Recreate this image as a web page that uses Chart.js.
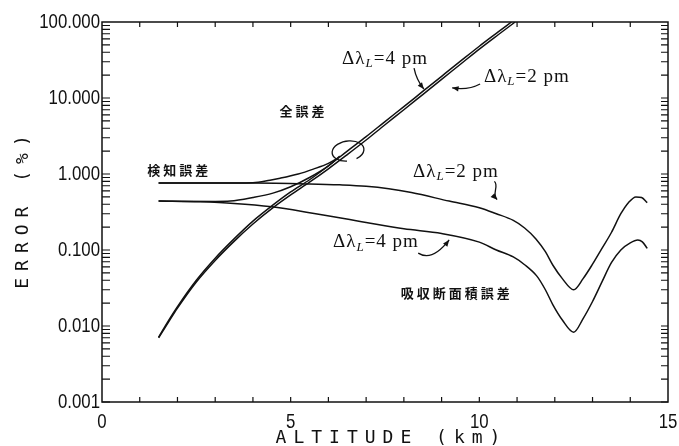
<!DOCTYPE html>
<html><head><meta charset="utf-8">
<script src="https://cdn.jsdelivr.net/npm/chart.js@4"></script>
<style>html,body{margin:0;padding:0;background:#fff}#wrap{width:679px;height:446px}</style>
</head><body><div id="wrap"><canvas id="c" width="679" height="446"></canvas></div>
<script>
// ---- tick values / labels ----
const xTickValues = [0, 5, 10, 15];
const xTickLabels = ["0", "5", "10", "15"];
const yTickValues = [0.001, 0.01, 0.1, 1, 10, 100];
const yTickLabels = ["0.001", "0.010", "0.100", "1.000", "10.000", "100.000"];

// ---- series (altitude km, error %) ----
const det4X = [1.5,1.75,2.0,2.5,3.0,3.5,4.0,4.5,5.0,5.5,6.0,6.5,7.0,7.5,8.0,8.5,9.0,9.5,10.0,10.5,10.85];
const det4Y = [0.0071,0.0115,0.018,0.040,0.078,0.14,0.24,0.38,0.58,0.84,1.28,2.0,3.1,4.9,7.7,12.2,19.3,30.5,48,74,100];
const det2X = [1.5,1.75,2.0,2.5,3.0,3.5,4.0,4.5,5.0,5.5,6.0,6.5,7.0,7.5,8.0,8.5,9.0,9.5,10.0,10.5,10.95];
const det2Y = [0.0070,0.011,0.0172,0.038,0.073,0.13,0.22,0.35,0.53,0.78,1.17,1.8,2.8,4.45,7.0,11.1,17.6,27.8,44,68,100];

const abs2X = [1.5,2.5,4.0,5.5,6.3,7.0,7.6,8.2,9.2,10.0,10.45,10.9,11.2,11.5,11.75,11.95,12.2,12.5,12.75,13.0,13.25,13.5,13.75,13.95,14.15,14.3,14.45];
const abs2Y = [0.76,0.76,0.76,0.74,0.72,0.69,0.64,0.57,0.44,0.36,0.30,0.245,0.195,0.14,0.095,0.063,0.042,0.030,0.042,0.065,0.105,0.17,0.30,0.42,0.50,0.49,0.42];
const abs4X = [1.5,2.6,3.5,4.5,5.5,7.0,8.0,9.0,10.0,10.45,10.9,11.2,11.53,11.75,11.95,12.2,12.5,12.75,13.0,13.25,13.5,13.75,14.0,14.2,14.32,14.45];
const abs4Y = [0.44,0.43,0.41,0.37,0.31,0.23,0.19,0.165,0.127,0.10,0.081,0.064,0.045,0.030,0.019,0.012,0.0083,0.0125,0.021,0.038,0.068,0.100,0.124,0.135,0.128,0.105];

const tot2X = [1.5,3.0,4.0,4.45,4.72,5.2,5.6,6.0,6.25];
const tot2Y = [0.76,0.76,0.77,0.83,0.88,1.0,1.16,1.38,1.62];
const tot4X = [1.5,3.0,3.4,4.0,4.53,5.0,5.5,6.0,6.3];
const tot4Y = [0.44,0.435,0.44,0.49,0.56,0.68,0.9,1.28,1.72];

const pts = (xs, ys) => xs.map((x, i) => ({x, y: ys[i]}));
const lineDs = (label, xs, ys) => ({
  label, data: pts(xs, ys), borderColor: '#111', borderWidth: 1.5,
  pointRadius: 0, fill: false, cubicInterpolationMode: 'monotone'
});

// ---- annotations (data coordinates) ----
const dlLabels = [
  {rest: '=4 pm', x: 7.50, y: 32.6},
  {rest: '=2 pm', x: 11.26, y: 18.9},
  {rest: '=2 pm', x: 9.38, y: 1.06},
  {rest: '=4 pm', x: 7.26, y: 0.127}
];
const jpLabels = [
  {t: '全誤差', x: 5.30, y: 6.74},
  {t: '検知誤差', x: 2.01, y: 1.13},
  {t: '吸収断面積誤差', x: 9.36, y: 0.027}
];
const arrows = [
  {p: [[8.27, 24.8], [8.33, 17.5], [8.53, 13.1]]},
  {p: [[10.02, 15.3], [9.7, 12.6], [9.28, 13.6]]},
  {p: [[10.40, 0.80], [10.53, 0.695], [10.32, 0.546], [10.47, 0.46]]},
  {p: [[8.38, 0.091], [8.75, 0.0695], [9.20, 0.1355]]}
];
const loop = {x: 6.52, y: 2.01};

const decor = {
  id: 'decor',
  afterDraw(chart) {
    const ctx = chart.ctx, a = chart.chartArea;
    const xs = chart.scales.x, ys = chart.scales.y;
    ctx.save();
    ctx.strokeStyle = '#111'; ctx.fillStyle = '#111';
    // frame
    ctx.lineWidth = 1.5;
    ctx.strokeRect(a.left, a.top, a.right - a.left, a.bottom - a.top);
    // ticks
    ctx.lineWidth = 1.2;
    ctx.beginPath();
    for (let k = 1; k < 15; k++) {
      const px = xs.getPixelForValue(k);
      ctx.moveTo(px, a.bottom); ctx.lineTo(px, a.bottom - 5);
      ctx.moveTo(px, a.top); ctx.lineTo(px, a.top + 5);
    }
    for (let d = -3; d <= 1; d++) {
      for (let m = 1; m <= 9; m++) {
        const v = m * Math.pow(10, d);
        const py = ys.getPixelForValue(v);
        ctx.moveTo(a.left, py); ctx.lineTo(a.left + 8, py);
        ctx.moveTo(a.right, py); ctx.lineTo(a.right - 7, py);
      }
    }
    ctx.stroke();
    // tick labels (condensed)
    ctx.font = '21px "Liberation Sans"';
    ctx.textAlign = 'right'; ctx.textBaseline = 'middle';
    yTickValues.forEach((v, i) => {
      ctx.save();
      ctx.translate(a.left - 2, ys.getPixelForValue(v));
      ctx.scale(0.8, 1);
      ctx.fillText(yTickLabels[i], 0, 0);
      ctx.restore();
    });
    ctx.textAlign = 'center'; ctx.textBaseline = 'top';
    xTickValues.forEach((v, i) => {
      ctx.save();
      ctx.translate(xs.getPixelForValue(v), a.bottom + 10);
      ctx.scale(0.8, 1);
      ctx.fillText(xTickLabels[i], 0, 0);
      ctx.restore();
    });
    // axis titles
    ctx.font = '18px "DejaVu Sans Mono"';
    ctx.letterSpacing = '7px';
    ctx.textBaseline = 'alphabetic';
    ctx.textAlign = 'left';
    let t = 'ALTITUDE (km)';
    let w = ctx.measureText(t).width - 7;
    ctx.fillText(t, (a.left + a.right) / 2 - w / 2 + 3, 443);
    t = 'ERROR (%)';
    w = ctx.measureText(t).width - 7;
    ctx.save();
    ctx.translate(28, (a.top + a.bottom) / 2);
    ctx.rotate(-Math.PI / 2);
    ctx.fillText(t, -w / 2, 0);
    ctx.restore();
    ctx.letterSpacing = '0px';
    // delta-lambda labels
    ctx.textBaseline = 'middle';
    dlLabels.forEach(L => {
      const cx = xs.getPixelForValue(L.x), cy = ys.getPixelForValue(L.y);
      ctx.letterSpacing = '1px';
      ctx.font = '19px "Liberation Serif"';
      const w1 = ctx.measureText('Δλ').width;
      const w3 = ctx.measureText(L.rest).width;
      ctx.font = 'italic 13px "Liberation Serif"';
      const w2 = ctx.measureText('L').width;
      let x0 = cx - (w1 + w2 + w3) / 2;
      ctx.font = '19px "Liberation Serif"';
      ctx.fillText('Δλ', x0, cy);
      ctx.font = 'italic 13px "Liberation Serif"';
      ctx.fillText('L', x0 + w1, cy + 5);
      ctx.font = '19px "Liberation Serif"';
      ctx.fillText(L.rest, x0 + w1 + w2, cy);
    });
    ctx.letterSpacing = '3px';
    ctx.font = 'bold 13px "Noto Sans CJK JP"';
    ctx.textAlign = 'center';
    jpLabels.forEach(L => {
      ctx.fillText(L.t, xs.getPixelForValue(L.x) + 1.5, ys.getPixelForValue(L.y));
    });
    ctx.letterSpacing = '0px';
    // arrows
    ctx.lineWidth = 1.3;
    arrows.forEach(A => {
      const P = A.p.map(q => [xs.getPixelForValue(q[0]), ys.getPixelForValue(q[1])]);
      ctx.beginPath();
      ctx.moveTo(P[0][0], P[0][1]);
      if (P.length === 3) ctx.quadraticCurveTo(P[1][0], P[1][1], P[2][0], P[2][1]);
      else ctx.bezierCurveTo(P[1][0], P[1][1], P[2][0], P[2][1], P[3][0], P[3][1]);
      ctx.stroke();
      const e = P[P.length - 1], c = P[P.length - 2];
      const ang = Math.atan2(e[1] - c[1], e[0] - c[0]);
      ctx.beginPath();
      ctx.moveTo(e[0], e[1]);
      ctx.lineTo(e[0] - 7 * Math.cos(ang - 0.4), e[1] - 7 * Math.sin(ang - 0.4));
      ctx.lineTo(e[0] - 7 * Math.cos(ang + 0.4), e[1] - 7 * Math.sin(ang + 0.4));
      ctx.closePath(); ctx.fill();
    });
    // loop around curves
    const lx = xs.getPixelForValue(loop.x), ly = ys.getPixelForValue(loop.y);
    ctx.beginPath();
    ctx.ellipse(lx, ly, 16, 10, -0.15, 0.55 * Math.PI, 2.35 * Math.PI);
    ctx.stroke();
    ctx.restore();
  }
};

new Chart(document.getElementById('c'), {
  type: 'line',
  data: {
    datasets: [
      lineDs('検知誤差 Δλ=4 pm', det4X, det4Y),
      lineDs('検知誤差 Δλ=2 pm', det2X, det2Y),
      lineDs('吸収断面積誤差 Δλ=2 pm', abs2X, abs2Y),
      lineDs('吸収断面積誤差 Δλ=4 pm', abs4X, abs4Y),
      lineDs('全誤差 Δλ=2 pm', tot2X, tot2Y),
      lineDs('全誤差 Δλ=4 pm', tot4X, tot4Y)
    ]
  },
  options: {
    responsive: false, animation: false, devicePixelRatio: 1,
    layout: {padding: {left: 0, top: 22, right: 11, bottom: 0}},
    plugins: {legend: {display: false}, tooltip: {enabled: false}},
    scales: {
      x: {
        type: 'linear', min: 0, max: 15,
        afterBuildTicks: s => { s.ticks = xTickValues.map(v => ({value: v})); },
        afterFit: s => { s.height = 44; },
        grid: {display: false, drawTicks: false}, border: {display: false},
        ticks: {display: false}
      },
      y: {
        type: 'logarithmic', min: 0.001, max: 100,
        afterBuildTicks: s => { s.ticks = yTickValues.map(v => ({value: v})); },
        afterFit: s => { s.width = 102; },
        grid: {display: false, drawTicks: false}, border: {display: false},
        ticks: {display: false}
      }
    }
  },
  plugins: [decor]
});
</script>
</body></html>
